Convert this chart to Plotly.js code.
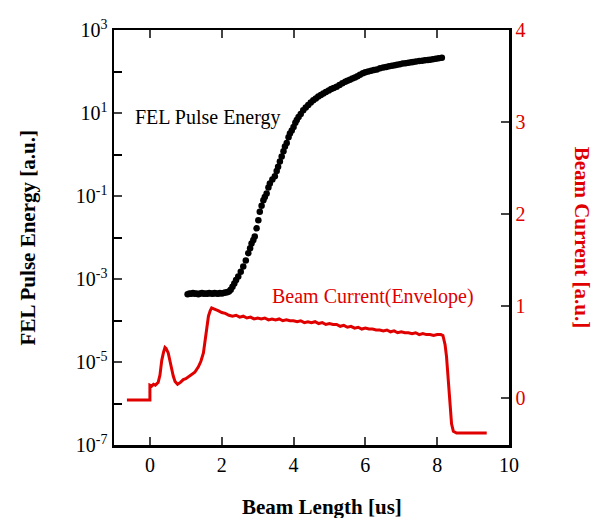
<!DOCTYPE html>
<html>
<head>
<meta charset="utf-8">
<script src="https://cdn.plot.ly/plotly-3.0.1.min.js"></script>
<style>html,body{margin:0;padding:0;background:#fff;}#chart{width:600px;height:518px;}</style>
</head>
<body>
<div id="chart"></div>
<script>
// FEL pulse energy [a.u.] (left, log axis)
var felX = [1.05,1.1,1.15,1.2,1.25,1.3,1.35,1.4,1.45,1.5,1.55,1.6,1.65,1.7,1.75,1.8,1.85,1.9,1.95,2.0,2.05,2.1,2.15,2.2,
  2.25,2.3,2.35,2.4,2.46,2.53,2.6,2.67,2.74,2.79,2.83,2.88,2.92,2.97,3.02,3.06,3.11,3.16,3.2,3.25,3.3,3.34,3.41,3.48,3.53,3.57,3.62,3.67,3.72,3.76,3.81,3.86,3.9,3.95,4.0,4.05,4.09,4.14,4.2,4.27,4.34,4.41,4.48,4.55,4.62,4.69,4.76,4.83,4.9,4.98,5.05,5.12,5.2,5.28,5.36,5.44,5.5,5.57,5.64,5.71,5.78,5.85,5.93,6.0,6.08,6.16,6.24,6.32,6.41,6.5,6.58,6.66,6.74,6.82,6.88,6.96,7.04,7.12,7.2,7.28,7.33,7.41,7.5,7.58,7.66,7.74,7.8,7.88,7.96,8.04,8.13];
var felE = [4.3e-4,4.5e-4,4.4e-4,4.6e-4,4.4e-4,4.5e-4,4.3e-4,4.5e-4,4.6e-4,4.4e-4,4.5e-4,4.4e-4,4.6e-4,4.5e-4,4.4e-4,4.6e-4,4.5e-4,4.4e-4,4.6e-4,4.5e-4,4.6e-4,4.7e-4,4.8e-4,5.0e-4,
  5.5e-4,6.5e-4,7.8e-4,9.5e-4,1.15e-3,1.5e-3,2.0e-3,2.8e-3,4.2e-3,5.5e-3,7.2e-3,8.7e-3,1.05e-2,1.66e-2,2.6e-2,4.2e-2,5.8e-2,7.9e-2,0.095,0.115,0.16,0.2,0.25,0.30,0.4,0.51,0.68,0.89,1.2,1.55,1.9,2.6,3.2,3.8,4.6,5.8,6.8,8.0,9.5,11.7,13.5,15.5,18,20.4,22.5,25,27,29.5,32,35,38,40,42.7,47,52,57,60,63,68,72,77,83,91,96,100,104,108,112,120,124,128,133,138,142,145,150,155,158,163,167,170,175,178,182,186,189,191,196,202,208,214];

// Beam current (envelope) [a.u.] (right, linear axis)
var curX = [-0.64,0,0,0.05,0.1,0.15,0.2,0.23,0.28,0.33,0.38,0.42,0.45,0.51,0.56,0.6,0.65,0.7,0.77,0.85,0.93,1.0,1.08,1.16,1.25,1.35,1.42,1.49,1.55,1.6,1.63,1.68,1.72,1.78,1.86,
  1.9,2.0,2.1,2.2,2.3,2.4,2.5,2.6,2.7,2.8,2.9,3.0,3.1,3.2,3.3,3.4,3.5,3.6,3.7,3.8,3.9,4.0,4.1,4.2,4.3,4.4,4.5,4.6,4.7,4.8,4.9,5.0,5.1,5.2,5.3,5.4,5.5,5.6,5.7,5.8,5.9,6.0,6.1,6.2,6.3,6.4,6.5,6.6,6.7,6.8,6.9,7.0,7.1,7.2,7.3,7.4,7.5,7.6,7.7,7.8,7.9,8.0,8.1,
  8.16,8.22,8.26,8.31,8.36,8.4,8.45,8.54,9.38];
var curY = [-0.02,-0.02,0.14,0.13,0.15,0.14,0.16,0.17,0.25,0.41,0.5,0.55,0.54,0.49,0.4,0.31,0.24,0.18,0.15,0.17,0.2,0.21,0.23,0.25,0.28,0.34,0.4,0.49,0.65,0.8,0.89,0.95,0.98,0.97,0.96,
  0.95,0.93,0.92,0.90,0.89,0.90,0.88,0.89,0.87,0.88,0.86,0.87,0.86,0.87,0.85,0.86,0.85,0.86,0.84,0.85,0.84,0.84,0.83,0.84,0.82,0.83,0.82,0.83,0.81,0.82,0.80,0.81,0.80,0.80,0.78,0.79,0.77,0.78,0.76,0.77,0.75,0.76,0.75,0.75,0.74,0.74,0.73,0.74,0.72,0.73,0.71,0.72,0.71,0.71,0.70,0.71,0.69,0.70,0.69,0.69,0.68,0.69,0.69,
  0.68,0.58,0.45,0.2,0.02,-0.28,-0.36,-0.38,-0.38];

var xTicks = [0,2,4,6,8,10];
var yLogTicks = [1e-7,1e-5,1e-3,1e-1,10,1000];
var yLogText = ['10<sup>-7</sup>','10<sup>-5</sup>','10<sup>-3</sup>','10<sup>-1</sup>','10<sup>1</sup>','10<sup>3</sup>'];
var yLogMinor = [1e-6,1e-4,1e-2,1,100];
var y2Ticks = [0,1,2,3,4];

var serif = 'Liberation Serif, Times New Roman, serif';
var red = '#e00000';

var traces = [
  {x: felX, y: felE, type: 'scatter', mode: 'markers', yaxis: 'y',
   marker: {color: '#000', size: 6.5}, showlegend: false, hoverinfo: 'skip'},
  {x: curX, y: curY, type: 'scatter', mode: 'lines', yaxis: 'y2',
   line: {color: red, width: 3}, showlegend: false, hoverinfo: 'skip'}
];

var layout = {
  width: 600, height: 518,
  margin: {l: 114, r: 91, t: 30, b: 73},
  paper_bgcolor: '#fff', plot_bgcolor: '#fff',
  font: {family: serif, size: 20, color: '#000'},
  xaxis: {range: [-1, 10], tickvals: xTicks, ticks: 'inside', ticklen: 8, tickwidth: 2,
    showline: true, linewidth: 2.5, linecolor: '#000', mirror: 'ticks', showgrid: false, zeroline: false,
    tickfont: {family: serif, size: 20, color: '#000'}},
  yaxis: {type: 'log', range: [-7, 3], tickvals: yLogTicks, ticktext: yLogText, ticks: 'inside', ticklen: 8, tickwidth: 2,
    minor: {tickvals: yLogMinor, ticks: 'inside', ticklen: 8, tickwidth: 2, tickcolor: '#000', showgrid: false},
    showline: true, linewidth: 2.5, linecolor: '#000', showgrid: false, zeroline: false,
    tickfont: {family: serif, size: 20, color: '#000'}},
  yaxis2: {overlaying: 'y', side: 'right', range: [-0.51, 4], tickvals: y2Ticks, ticks: 'inside', ticklen: 8, tickwidth: 2,
    showline: true, linewidth: 2.5, linecolor: '#000', showgrid: false, zeroline: false,
    tickfont: {family: serif, size: 20, color: red}},
  annotations: [
    {text: 'FEL Pulse Energy', xref: 'x', yref: 'y', x: -0.47, y: 0.88, xanchor: 'left', yanchor: 'middle',
     showarrow: false, font: {family: serif, size: 20, color: '#000'}},
    {text: 'Beam Current(Envelope)', xref: 'x', yref: 'y2', x: 3.34, y: 1.10, xanchor: 'left', yanchor: 'middle',
     showarrow: false, font: {family: serif, size: 20, color: red}},
    {text: '<b>FEL Pulse Energy [a.u.]</b>', xref: 'paper', yref: 'paper', x: -0.218, y: 0.5, xanchor: 'center', yanchor: 'middle',
     textangle: -90, showarrow: false, font: {family: serif, size: 21, color: '#000'}},
    {text: '<b>Beam Current [a.u.]</b>', xref: 'paper', yref: 'paper', x: 1.187, y: 0.5, xanchor: 'center', yanchor: 'middle',
     textangle: 90, showarrow: false, font: {family: serif, size: 21, color: red}},
    {text: '<b>Beam Length [us]</b>', xref: 'paper', yref: 'paper', x: 0.527, y: -0.149, xanchor: 'center', yanchor: 'middle',
     showarrow: false, font: {family: serif, size: 21, color: '#000'}}
  ]
};

Plotly.newPlot('chart', traces, layout, {staticPlot: true, displayModeBar: false});
</script>
</body>
</html>
